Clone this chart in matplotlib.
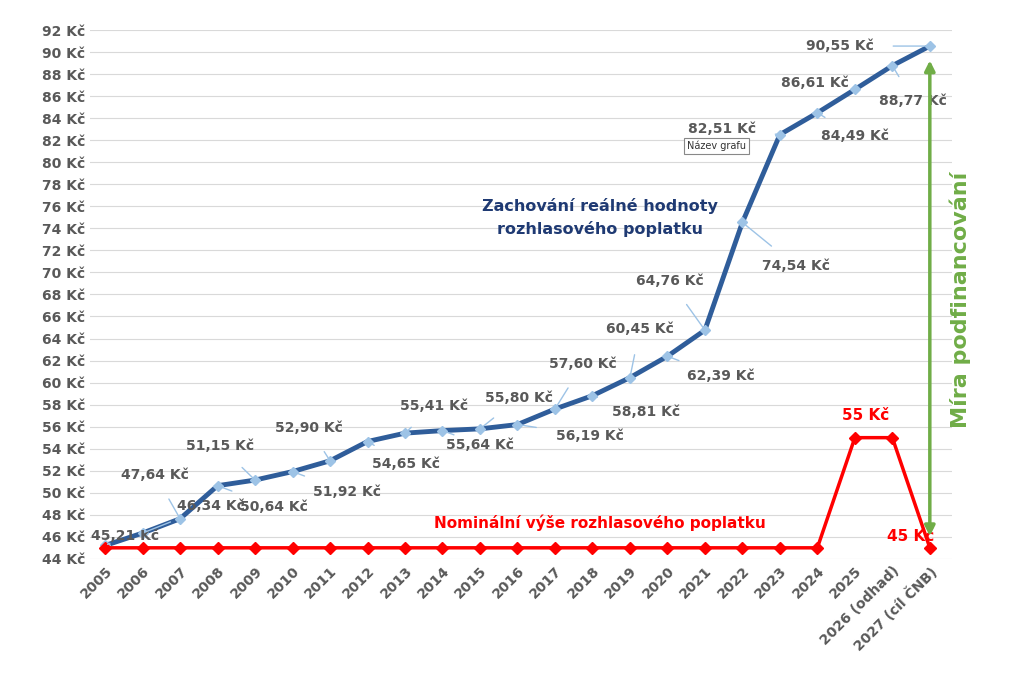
import numpy as np
import matplotlib.pyplot as plt

years = [str(y) for y in range(2005, 2026)] + ["2026 (odhad)", "2027 (cíl ČNB)"]
realna = [45.21, 46.34, 47.64, 50.64, 51.15, 51.92, 52.90, 54.65, 55.41, 55.64, 55.80,
          56.19, 57.60, 58.81, 60.45, 62.39, 64.76, 74.54, 82.51, 84.49, 86.61, 88.77, 90.55]
nominalni = [45] * 20 + [55, 55, 45]
# label offsets in pixels (dx, dy)
offsets = [(20, 9), (68, 27), (-25, 44), (56, -21), (-35, 34), (54, -20), (-21, 33), (38, -22),
           (29, 27), (38, -14), (39, 31), (72, -11), (28, 45), (54, -16), (10, 49), (53, -20),
           (-35, 49), (54, -44), (-58, 6), (38, -23), (-40, 6), (21, -35), (-90, 0)]

gray = "#595959"
fig = plt.figure(figsize=(10.24, 6.84), dpi=100)
ax = fig.add_axes([0.088, 0.183, 0.842, 0.773])
x = np.arange(len(years))

ax.plot(x, realna, color="#2F5D9A", lw=3.5, marker="D", ms=5,
        markerfacecolor="#9DC3E6", markeredgecolor="#9DC3E6", zorder=3)
ax.plot(x, nominalni, color="#FF0000", lw=2.5, marker="D", ms=6, zorder=3)

for xi, v, (dx, dy) in zip(x, realna, offsets):
    ax.annotate(f"{v:.2f} Kč".replace(".", ","), (xi, v), xytext=(dx, dy),
                textcoords="offset pixels", ha="center", va="center",
                fontsize=10, fontweight="bold", color=gray,
                arrowprops=dict(arrowstyle="-", color="#9DC3E6", lw=1, shrinkA=12, shrinkB=2))

ax.text(16.3, 81.5, "Název grafu", fontsize=7, color="#333333", ha="center", va="center",
        bbox=dict(boxstyle="square,pad=0.3", fc="white", ec="#888888", lw=0.8), zorder=5)

ax.text(20.3, 56.6, "55 Kč", color="#FF0000", fontsize=11, fontweight="bold", ha="center")
ax.text(21.5, 45.6, "45 Kč", color="#FF0000", fontsize=11, fontweight="bold", ha="center")
ax.text(13.2, 47.3, "Nominální výše rozhlasového poplatku", color="#FF0000",
        fontsize=11, fontweight="bold", ha="center", va="center")
ax.text(13.2, 75.0, "Zachování reálné hodnoty\nrozhlasového poplatku", color="#1F3A73",
        fontsize=11.5, fontweight="bold", ha="center", va="center", linespacing=1.5)

ax.annotate("", xy=(22, 89.5), xytext=(22, 45.8),
            arrowprops=dict(arrowstyle="<|-|>", color="#70AD47", lw=2.5, mutation_scale=15))
ax.text(22.8, 67.5, "Míra podfinancování", color="#70AD47", fontsize=16, fontweight="bold",
        rotation=90, ha="center", va="center")

ax.set_ylim(44, 92)
ax.set_xlim(-0.4, 22.6)
ax.set_yticks(np.arange(44, 93, 2))
ax.set_yticklabels([f"{v} Kč" for v in range(44, 93, 2)])
ax.set_xticks(x)
ax.set_xticklabels(years, rotation=45, ha="right", rotation_mode="anchor")
ax.tick_params(length=0, labelsize=10, colors=gray)
for lab in ax.get_xticklabels() + ax.get_yticklabels():
    lab.set_fontweight("bold")
ax.grid(axis="y", color="#D9D9D9", lw=0.8)
for s in ax.spines.values():
    s.set_visible(False)

fig.savefig("out.png", dpi=100)
